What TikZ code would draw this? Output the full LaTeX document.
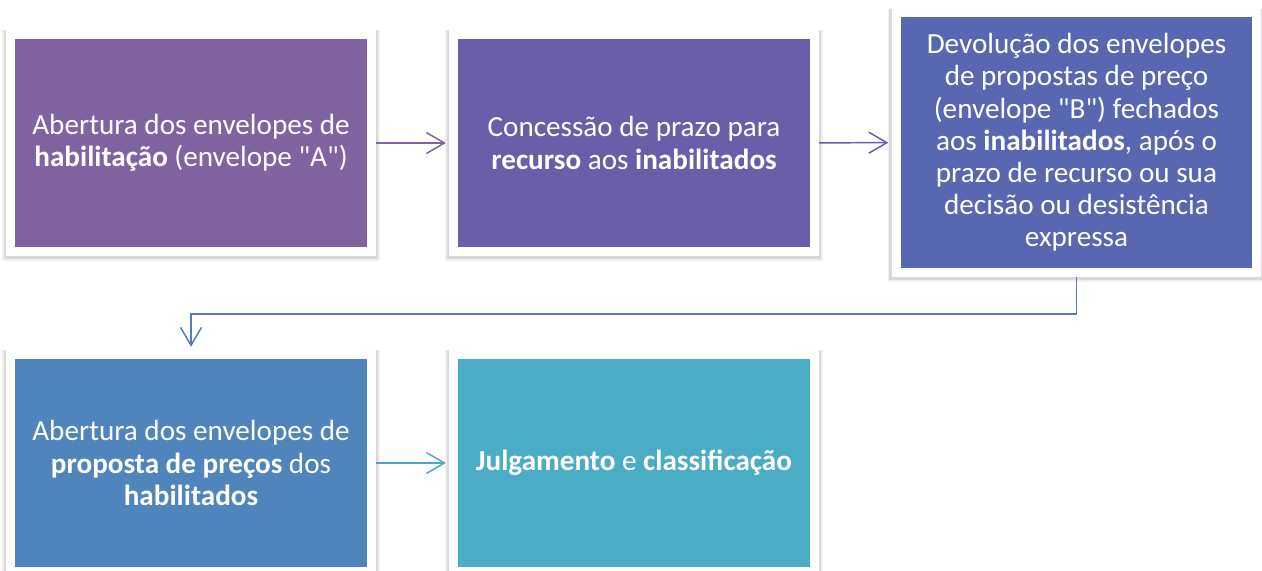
\documentclass[tikz,border=0pt]{standalone}
\usepackage{fontspec}
\setmainfont{Carlito}
\usetikzlibrary{arrows.meta,shadows,fit,backgrounds}
\definecolor{roxo}{HTML}{8064A2}
\definecolor{violeta}{HTML}{6A5DAA}
\definecolor{anil}{HTML}{5767B2}
\definecolor{azul}{HTML}{4F84BD}
\definecolor{ciano}{HTML}{4BACC6}
\definecolor{ligacao}{HTML}{5B78BC}
\definecolor{setaciano}{HTML}{4DA6C5}
\begin{document}
\begin{tikzpicture}[x=0.02cm, y=-0.02cm, font=\fontsize{16.6}{18.3}\selectfont, line join=round,
	caixa/.style={fill=#1, text=white, minimum width=7.04cm, minimum height=4.16cm, align=center, inner sep=0pt},
	moldura/.style={fill=white, inner sep=0.17cm,
		drop shadow={shadow xshift=0cm, shadow yshift=-0.05cm, shadow scale=1.022, fill=black, opacity=0.06},
		drop shadow={shadow xshift=0cm, shadow yshift=-0.04cm, shadow scale=1.012, fill=black, opacity=0.1}},
	seta/.style={draw=#1, line width=0.85pt, -{Straight Barb[length=0.36cm, width=0.42cm]}, shorten >=0.06cm}]
	\useasboundingbox (0,0) rectangle (1262,571);
	\node[caixa=roxo] (b1) at (191,143) {Abertura dos envelopes de\\\textbf{habilitação} (envelope \textquotedbl A\textquotedbl)};
	\node[caixa=violeta] (b2) at (634,143) {Concessão de prazo para\\\textbf{recurso} aos \textbf{inabilitados}};
	\node[caixa=anil, minimum height=5.02cm] (b3) at (1076.5,142.5) {Devolução dos envelopes\\de propostas de preço\\(envelope \textquotedbl B\textquotedbl) fechados\\aos \textbf{inabilitados}, após o\\prazo de recurso ou sua\\decisão ou desistência\\expressa};
	\node[caixa=azul] (b4) at (191,463) {Abertura dos envelopes de\\\textbf{proposta de preços} dos\\\textbf{habilitados}};
	\node[caixa=ciano] (b5) at (634,463) {\textbf{Julgamento} e \textbf{classificação}};
	\begin{scope}[on background layer]
		\node[moldura, fit=(b1)] (f1) {};
		\node[moldura, fit=(b2)] (f2) {};
		\node[moldura, fit=(b3)] (f3) {};
		\node[moldura, fit=(b4)] (f4) {};
		\node[moldura, fit=(b5)] (f5) {};
	\end{scope}
	\coordinate (volta) at (191,314);
	\draw[seta=roxo] (f1) -- (f2);
	\draw[seta=violeta] (f2) -- (f3);
	\draw[seta=ligacao] (f3.south) |- (volta) -- (f4.north);
	\draw[seta=setaciano] (f4) -- (f5);
\end{tikzpicture}
\end{document}
